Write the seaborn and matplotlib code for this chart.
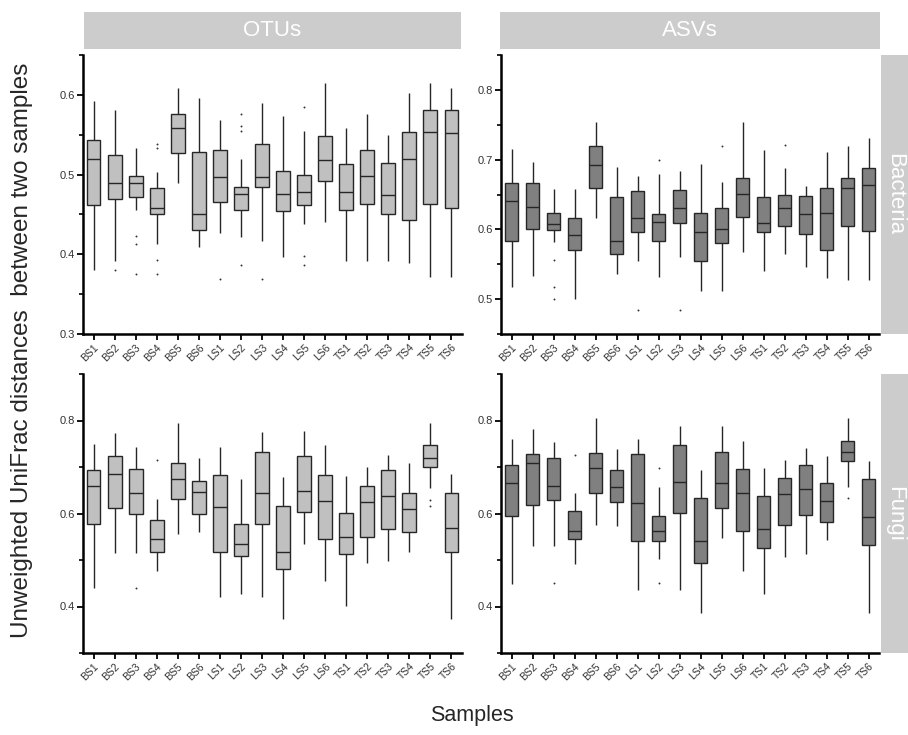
import matplotlib
matplotlib.use('Agg')
import matplotlib.pyplot as plt
from matplotlib.ticker import MultipleLocator
import seaborn as sns
import pandas as pd

samples = ['BS1', 'BS2', 'BS3', 'BS4', 'BS5', 'BS6',
           'LS1', 'LS2', 'LS3', 'LS4', 'LS5', 'LS6',
           'TS1', 'TS2', 'TS3', 'TS4', 'TS5', 'TS6']

# OTUs - Bacteria
otu_bac_low = [0.380, 0.392, 0.456, 0.413, 0.489, 0.409, 0.427, 0.422, 0.417, 0.397, 0.438, 0.441, 0.391, 0.392, 0.391, 0.389, 0.372, 0.372]
otu_bac_q1 = [0.462, 0.469, 0.472, 0.450, 0.527, 0.430, 0.466, 0.456, 0.484, 0.454, 0.462, 0.492, 0.455, 0.463, 0.451, 0.443, 0.463, 0.458]
otu_bac_med = [0.520, 0.490, 0.489, 0.458, 0.558, 0.451, 0.497, 0.476, 0.497, 0.476, 0.478, 0.518, 0.478, 0.498, 0.475, 0.519, 0.554, 0.552]
otu_bac_q3 = [0.543, 0.525, 0.498, 0.483, 0.576, 0.528, 0.531, 0.484, 0.538, 0.505, 0.499, 0.549, 0.513, 0.531, 0.515, 0.554, 0.581, 0.581]
otu_bac_high = [0.592, 0.581, 0.533, 0.503, 0.609, 0.596, 0.569, 0.520, 0.590, 0.573, 0.555, 0.615, 0.558, 0.576, 0.550, 0.602, 0.615, 0.608]
otu_bac_out_sample = ['BS2', 'BS3', 'BS3', 'BS3', 'BS4', 'BS4', 'BS4', 'BS4', 'LS1',
                      'LS2', 'LS2', 'LS2', 'LS2', 'LS3', 'LS5', 'LS5', 'LS5']
otu_bac_out_value = [0.380, 0.423, 0.413, 0.375, 0.538, 0.533, 0.393, 0.375, 0.369,
                     0.576, 0.561, 0.555, 0.387, 0.369, 0.585, 0.398, 0.387]

# ASVs - Bacteria
asv_bac_low = [0.518, 0.533, 0.582, 0.500, 0.617, 0.536, 0.555, 0.532, 0.560, 0.512, 0.512, 0.567, 0.541, 0.564, 0.546, 0.530, 0.527, 0.527]
asv_bac_q1 = [0.584, 0.601, 0.599, 0.570, 0.660, 0.565, 0.596, 0.583, 0.609, 0.555, 0.580, 0.618, 0.596, 0.605, 0.593, 0.570, 0.605, 0.598]
asv_bac_med = [0.641, 0.632, 0.608, 0.592, 0.693, 0.584, 0.617, 0.610, 0.630, 0.596, 0.600, 0.651, 0.609, 0.630, 0.622, 0.624, 0.659, 0.663]
asv_bac_q3 = [0.667, 0.667, 0.624, 0.617, 0.719, 0.646, 0.655, 0.622, 0.657, 0.624, 0.630, 0.674, 0.646, 0.649, 0.648, 0.659, 0.674, 0.688]
asv_bac_high = [0.715, 0.697, 0.658, 0.658, 0.754, 0.690, 0.677, 0.680, 0.683, 0.694, 0.668, 0.754, 0.714, 0.688, 0.662, 0.711, 0.719, 0.731]
asv_bac_out_sample = ['BS3', 'BS3', 'BS3', 'LS1', 'LS2', 'LS3', 'LS5', 'TS2']
asv_bac_out_value = [0.556, 0.518, 0.500, 0.484, 0.700, 0.484, 0.720, 0.721]

# OTUs - Fungi
otu_fun_low = [0.439, 0.515, 0.515, 0.476, 0.556, 0.561, 0.421, 0.426, 0.421, 0.373, 0.535, 0.454, 0.402, 0.493, 0.498, 0.517, 0.655, 0.373]
otu_fun_q1 = [0.578, 0.611, 0.600, 0.517, 0.631, 0.598, 0.517, 0.508, 0.577, 0.480, 0.604, 0.546, 0.512, 0.550, 0.566, 0.561, 0.701, 0.517]
otu_fun_med = [0.659, 0.685, 0.644, 0.546, 0.674, 0.646, 0.613, 0.535, 0.644, 0.517, 0.649, 0.626, 0.549, 0.624, 0.637, 0.609, 0.719, 0.569]
otu_fun_q3 = [0.693, 0.723, 0.695, 0.585, 0.708, 0.670, 0.682, 0.578, 0.733, 0.617, 0.723, 0.682, 0.601, 0.659, 0.693, 0.644, 0.747, 0.644]
otu_fun_high = [0.750, 0.773, 0.744, 0.631, 0.795, 0.719, 0.742, 0.675, 0.775, 0.678, 0.777, 0.748, 0.680, 0.701, 0.725, 0.709, 0.795, 0.686]
otu_fun_out_sample = ['BS3', 'BS4', 'TS5', 'TS5']
otu_fun_out_value = [0.439, 0.714, 0.629, 0.617]

# ASVs - Fungi
asv_fun_low = [0.449, 0.530, 0.530, 0.492, 0.576, 0.574, 0.436, 0.502, 0.436, 0.386, 0.547, 0.476, 0.426, 0.506, 0.513, 0.543, 0.657, 0.386]
asv_fun_q1 = [0.594, 0.619, 0.629, 0.546, 0.645, 0.624, 0.540, 0.540, 0.602, 0.493, 0.612, 0.562, 0.526, 0.576, 0.597, 0.582, 0.713, 0.533]
asv_fun_med = [0.665, 0.708, 0.660, 0.563, 0.697, 0.657, 0.623, 0.562, 0.667, 0.540, 0.665, 0.644, 0.567, 0.641, 0.652, 0.626, 0.732, 0.592]
asv_fun_q3 = [0.704, 0.727, 0.720, 0.606, 0.730, 0.693, 0.727, 0.594, 0.747, 0.633, 0.732, 0.696, 0.637, 0.677, 0.704, 0.666, 0.756, 0.675]
asv_fun_high = [0.761, 0.782, 0.754, 0.645, 0.806, 0.738, 0.761, 0.658, 0.788, 0.693, 0.788, 0.756, 0.698, 0.715, 0.740, 0.724, 0.806, 0.713]
asv_fun_out_sample = ['BS3', 'BS4', 'LS2', 'LS2', 'TS5']
asv_fun_out_value = [0.450, 0.725, 0.697, 0.450, 0.634]

sns.set_style('ticks')
plt.rcParams['font.family'] = ['Liberation Sans', 'DejaVu Sans']

W, H = 908, 735
fig = plt.figure(figsize=(W / 100, H / 100), dpi=100)


def px(x0, y0, x1, y1):
    # pixel box (from top-left) -> figure fraction rect
    return [x0 / W, 1 - y1 / H, (x1 - x0) / W, (y1 - y0) / H]


def draw_panel(rect, low, q1, med, q3, high, out_s, out_v, color, ylim, major, minor):
    ax = fig.add_axes(rect)
    df = pd.DataFrame({'sample': samples * 5,
                       'value': low + q1 + med + q3 + high})
    sns.boxplot(data=df, x='sample', y='value', order=samples, whis=(0, 100),
                color=color, saturation=1, width=0.66, linewidth=1.0,
                linecolor='#262626', showfliers=False, showcaps=False, ax=ax)
    odf = pd.DataFrame({'sample': out_s, 'value': out_v})
    sns.stripplot(data=odf, x='sample', y='value', order=samples, jitter=False,
                  size=1.4, color='#333333', ax=ax)
    ax.set_xlim(-0.5, 17.5)
    ax.set_ylim(*ylim)
    ax.yaxis.set_major_locator(MultipleLocator(major))
    ax.yaxis.set_minor_locator(MultipleLocator(minor))
    ax.set_xlabel('')
    ax.set_ylabel('')
    sns.despine(ax=ax)
    for s in ['left', 'bottom']:
        ax.spines[s].set_linewidth(1.8)
        ax.spines[s].set_color('black')
    ax.tick_params(axis='both', which='major', length=4, width=1.3,
                   color='black', labelsize=8, labelcolor='#333333', pad=2)
    ax.tick_params(axis='y', which='minor', length=3, width=1.2, color='black')
    plt.setp(ax.get_xticklabels(), rotation=45, ha='right',
             rotation_mode='anchor', fontsize=7.5)
    return ax


draw_panel(px(83, 55, 462, 334), otu_bac_low, otu_bac_q1, otu_bac_med, otu_bac_q3,
           otu_bac_high, otu_bac_out_sample, otu_bac_out_value, '#c0c0c0',
           (0.3, 0.65), 0.1, 0.05)
draw_panel(px(501, 55, 879, 334), asv_bac_low, asv_bac_q1, asv_bac_med, asv_bac_q3,
           asv_bac_high, asv_bac_out_sample, asv_bac_out_value, '#808080',
           (0.45, 0.85), 0.1, 0.05)
draw_panel(px(83, 374, 462, 653), otu_fun_low, otu_fun_q1, otu_fun_med, otu_fun_q3,
           otu_fun_high, otu_fun_out_sample, otu_fun_out_value, '#c0c0c0',
           (0.3, 0.9), 0.2, 0.1)
draw_panel(px(501, 374, 879, 653), asv_fun_low, asv_fun_q1, asv_fun_med, asv_fun_q3,
           asv_fun_high, asv_fun_out_sample, asv_fun_out_value, '#808080',
           (0.3, 0.9), 0.2, 0.1)

# facet strips
strip_kw = dict(color='white', fontsize=16, ha='center', va='center')
for (x0, x1), label in [((84, 461), 'OTUs'), ((500, 880), 'ASVs')]:
    sa = fig.add_axes(px(x0, 12, x1, 49))
    sa.set_facecolor('#cccccc')
    sa.set_xticks([])
    sa.set_yticks([])
    for sp in sa.spines.values():
        sp.set_visible(False)
    sa.text(0.5, 0.5, label, transform=sa.transAxes, **strip_kw)
for (y0, y1), label in [((55, 334), 'Bacteria'), ((374, 653), 'Fungi')]:
    sa = fig.add_axes(px(881, y0, 908, y1))
    sa.set_facecolor('#cccccc')
    sa.set_xticks([])
    sa.set_yticks([])
    for sp in sa.spines.values():
        sp.set_visible(False)
    sa.text(0.5, 0.5, label, transform=sa.transAxes, rotation=-90, **strip_kw)

fig.text(22 / W, 1 - 350 / H, 'Unweighted UniFrac distances  between two samples',
         rotation=90, ha='center', va='center', fontsize=17.5)
fig.text(472 / W, 1 - 715 / H, 'Samples', ha='center', va='center', fontsize=15.5)

fig.savefig('out.png', dpi=100)
plt.close()
